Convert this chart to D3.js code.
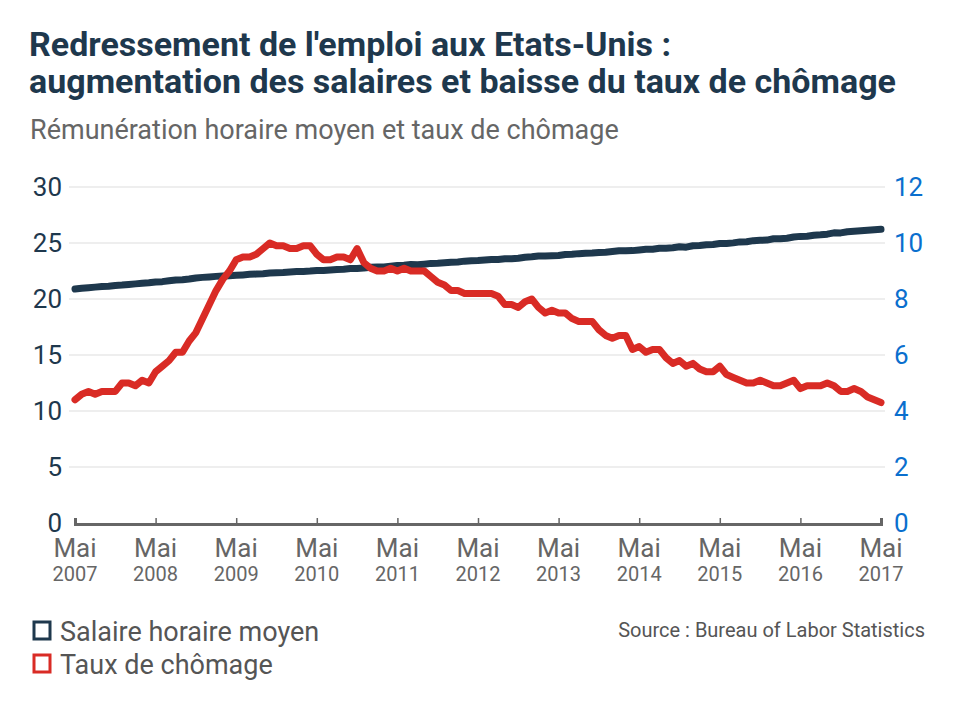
<!DOCTYPE html>
<html>
<head>
<meta charset="utf-8">
<script src="https://cdn.jsdelivr.net/npm/d3@7"></script>
<style>
  body { margin: 0; background: #fff; }
  svg { font-family: Roboto, "Noto Sans", sans-serif; }
</style>
</head>
<body>
<div id="chart"></div>
<script>
// Chart size
const width = 960;
const height = 705;
const margin = { left: 71, right: 75, top: 187, bottom: 182 };

// Tick labels (one per year, in May)
const years = ["2007", "2008", "2009", "2010", "2011", "2012", "2013", "2014", "2015", "2016", "2017"];

// Average hourly earnings, $ (monthly, May 2007 -> May 2017)
const salaire = [
  20.89, 20.96, 21.01, 21.06, 21.11, 21.14, 21.21, 21.24,
  21.29, 21.35, 21.41, 21.45, 21.52, 21.55, 21.63, 21.70, 21.71, 21.78, 21.88, 21.93,
  21.97, 22.02, 22.06, 22.08, 22.11, 22.15, 22.20, 22.23, 22.26, 22.32, 22.35, 22.36,
  22.42, 22.45, 22.46, 22.49, 22.54, 22.55, 22.59, 22.64, 22.66, 22.72, 22.73, 22.76,
  22.84, 22.85, 22.86, 22.92, 22.99, 23.01, 23.09, 23.05, 23.11, 23.18, 23.19, 23.23,
  23.28, 23.31, 23.38, 23.42, 23.43, 23.48, 23.52, 23.52, 23.59, 23.59, 23.64, 23.73,
  23.77, 23.83, 23.84, 23.87, 23.89, 23.98, 23.99, 24.05, 24.09, 24.11, 24.15, 24.18,
  24.24, 24.31, 24.30, 24.32, 24.38, 24.44, 24.45, 24.53, 24.54, 24.57, 24.66, 24.63,
  24.75, 24.78, 24.85, 24.87, 24.96, 24.95, 25.01, 25.10, 25.11, 25.21, 25.25, 25.26,
  25.38, 25.37, 25.43, 25.53, 25.59, 25.61, 25.69, 25.73, 25.79, 25.91, 25.90, 26.00,
  26.04, 26.09, 26.14, 26.19, 26.22
];

// Unemployment rate, % (monthly, May 2007 -> May 2017)
const chomage = [
  4.4, 4.6, 4.7, 4.6, 4.7, 4.7, 4.7, 5.0,
  5.0, 4.9, 5.1, 5.0, 5.4, 5.6, 5.8, 6.1, 6.1, 6.5, 6.8, 7.3,
  7.8, 8.3, 8.7, 9.0, 9.4, 9.5, 9.5, 9.6, 9.8, 10.0, 9.9, 9.9,
  9.8, 9.8, 9.9, 9.9, 9.6, 9.4, 9.4, 9.5, 9.5, 9.4, 9.8, 9.3,
  9.1, 9.0, 9.0, 9.1, 9.0, 9.1, 9.0, 9.0, 9.0, 8.8, 8.6, 8.5,
  8.3, 8.3, 8.2, 8.2, 8.2, 8.2, 8.2, 8.1, 7.8, 7.8, 7.7, 7.9,
  8.0, 7.7, 7.5, 7.6, 7.5, 7.5, 7.3, 7.2, 7.2, 7.2, 6.9, 6.7,
  6.6, 6.7, 6.7, 6.2, 6.3, 6.1, 6.2, 6.2, 5.9, 5.7, 5.8, 5.6,
  5.7, 5.5, 5.4, 5.4, 5.6, 5.3, 5.2, 5.1, 5.0, 5.0, 5.1, 5.0,
  4.9, 4.9, 5.0, 5.1, 4.8, 4.9, 4.9, 4.9, 5.0, 4.9, 4.7, 4.7,
  4.8, 4.7, 4.5, 4.4, 4.3
];

const leftTicks = [0, 5, 10, 15, 20, 25, 30];
const rightTicks = [0, 2, 4, 6, 8, 10, 12];

const navy = "#1e384d";
const red = "#d92b25";
const blue = "#0a6fce";
const grey = "#666666";

const svg = d3.select("#chart")
  .append("svg")
  .attr("width", width)
  .attr("height", height);

// Titles
svg.append("text")
  .attr("x", 29).attr("y", 56)
  .attr("font-size", "34px").attr("font-weight", "bold")
  .attr("fill", navy)
  .text("Redressement de l'emploi aux Etats-Unis :");
svg.append("text")
  .attr("x", 29).attr("y", 93)
  .attr("font-size", "34px").attr("font-weight", "bold")
  .attr("fill", navy)
  .text("augmentation des salaires et baisse du taux de chômage");
svg.append("text")
  .attr("x", 30).attr("y", 139)
  .attr("font-size", "27px")
  .attr("fill", grey)
  .text("Rémunération horaire moyen et taux de chômage");

/*
  Scales
*/
const xScale = d3.scaleLinear()
  .domain([0, salaire.length - 1])
  .range([margin.left + 4, width - margin.right - 4]);

const yLeft = d3.scaleLinear()
  .domain([0, 30])
  .range([height - margin.bottom, margin.top]);

const yRight = d3.scaleLinear()
  .domain([0, 12])
  .range([height - margin.bottom, margin.top]);

// Gridlines
svg.append("g")
  .selectAll("line")
  .data(leftTicks.slice(1))
  .enter()
  .append("line")
  .attr("x1", margin.left - 2)
  .attr("x2", width - margin.right)
  .attr("y1", d => yLeft(d))
  .attr("y2", d => yLeft(d))
  .attr("stroke", "#dddddd")
  .attr("stroke-width", 1.2);

// Left axis labels
svg.append("g")
  .attr("transform", `translate(${margin.left - 9}, 0)`)
  .call(d3.axisLeft(yLeft).tickValues(leftTicks).tickSize(0).tickPadding(0))
  .call(g => g.select(".domain").remove())
  .selectAll("text")
  .attr("font-family", "Roboto")
  .attr("font-size", "26px")
  .attr("fill", navy);

// Right axis labels
svg.append("g")
  .attr("transform", `translate(${width - margin.right + 9}, 0)`)
  .call(d3.axisRight(yRight).tickValues(rightTicks).tickSize(0).tickPadding(0))
  .call(g => g.select(".domain").remove())
  .selectAll("text")
  .attr("font-family", "Roboto")
  .attr("font-size", "26px")
  .attr("fill", blue);

// Lines
const lineSalaire = d3.line()
  .x((d, i) => xScale(i))
  .y(d => yLeft(d));

const lineChomage = d3.line()
  .x((d, i) => xScale(i))
  .y(d => yRight(d));

svg.append("path")
  .datum(salaire)
  .attr("d", lineSalaire)
  .attr("fill", "none")
  .attr("stroke", navy)
  .attr("stroke-width", 7)
  .attr("stroke-linecap", "round")
  .attr("stroke-linejoin", "round");

svg.append("path")
  .datum(chomage)
  .attr("d", lineChomage)
  .attr("fill", "none")
  .attr("stroke", red)
  .attr("stroke-width", 7)
  .attr("stroke-linecap", "round")
  .attr("stroke-linejoin", "round");

// X axis
const xTicks = d3.range(0, salaire.length, 12);
const xAxis = svg.append("g")
  .attr("transform", `translate(0, ${height - margin.bottom + 1})`)
  .call(d3.axisBottom(xScale).tickValues(xTicks).tickSize(-6).tickSizeOuter(-6).tickFormat(""));
xAxis.select(".domain").attr("stroke", grey).attr("stroke-width", 3);
xAxis.selectAll(".tick line").attr("stroke", grey).attr("stroke-width", 1.5);

const xLabels = svg.append("g")
  .selectAll("g")
  .data(xTicks)
  .enter()
  .append("g")
  .attr("transform", d => `translate(${xScale(d)}, 0)`);
xLabels.append("text")
  .attr("y", 557)
  .attr("text-anchor", "middle")
  .attr("font-size", "26px")
  .attr("fill", grey)
  .text("Mai");
xLabels.append("text")
  .attr("y", 581)
  .attr("text-anchor", "middle")
  .attr("font-size", "20px")
  .attr("fill", grey)
  .text((d, i) => years[i]);

// Legend
const legendItems = [
  { label: "Salaire horaire moyen", color: navy },
  { label: "Taux de chômage", color: red }
];
const legend = svg.append("g")
  .selectAll("g")
  .data(legendItems)
  .enter()
  .append("g")
  .attr("transform", (d, i) => `translate(0, ${i * 33})`);
legend.append("rect")
  .attr("x", 34).attr("y", 622)
  .attr("width", 16).attr("height", 17)
  .attr("fill", "none")
  .attr("stroke", d => d.color)
  .attr("stroke-width", 3);
legend.append("text")
  .attr("x", 60).attr("y", 641)
  .attr("font-size", "27px")
  .attr("fill", "#555555")
  .text(d => d.label);

// Source
svg.append("text")
  .attr("x", 925).attr("y", 637)
  .attr("text-anchor", "end")
  .attr("font-size", "20px")
  .attr("fill", "#555555")
  .text("Source : Bureau of Labor Statistics");
</script>
</body>
</html>
